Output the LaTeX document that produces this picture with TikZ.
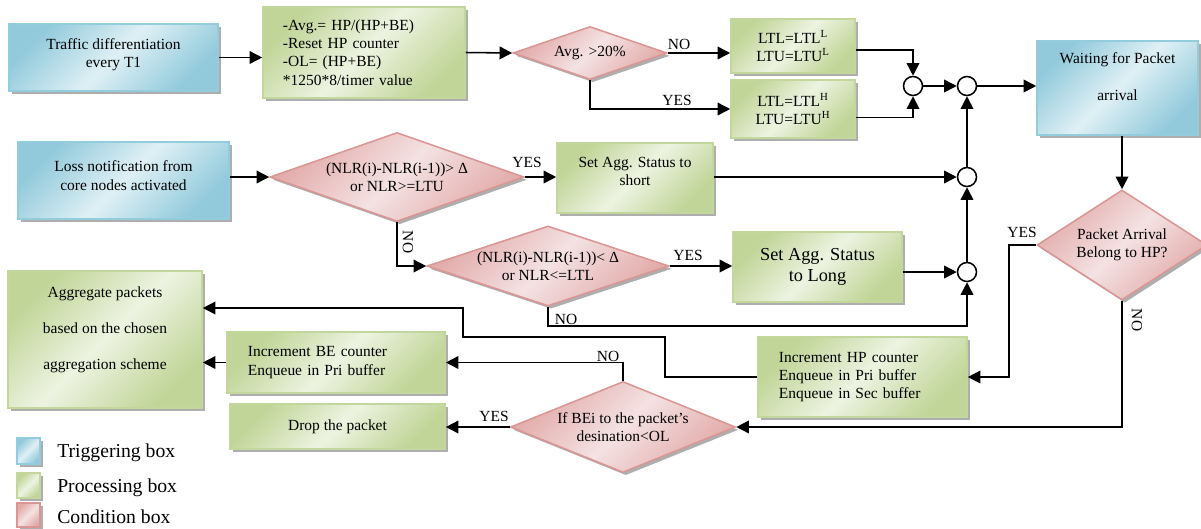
\documentclass[tikz,border=0pt]{standalone}
\usepackage{fontspec}
\setmainfont{Liberation Serif}
\usetikzlibrary{shapes.geometric,arrows.meta,shadows}
\definecolor{trig-edge}{HTML}{93CDDD}
\definecolor{trig-dark}{HTML}{92CADB}
\definecolor{trig-light}{HTML}{DFF0F5}
\definecolor{proc-edge}{HTML}{C3D69B}
\definecolor{proc-dark}{HTML}{C0D597}
\definecolor{proc-light}{HTML}{EDF3E1}
\definecolor{cond-edge}{HTML}{D99694}
\definecolor{cond-dark}{HTML}{E2ABAA}
\definecolor{cond-light}{HTML}{F4E2E2}
\tikzset{
    base-box/.style = {rectangle, line width=1.1pt, inner sep=3pt, align=center, font=\fontsize{11}{13}\selectfont, drop shadow={shadow xshift=2pt, shadow yshift=-2pt, fill=black!45, opacity=.7}},
    trigger-box/.style = {base-box, draw=trig-edge, shading=axis, left color=trig-dark, right color=trig-dark, middle color=trig-light, shading angle=45},
    process-box/.style = {base-box, draw=proc-edge, shading=axis, left color=proc-dark, right color=proc-dark, middle color=proc-light, shading angle=45},
    cond-box/.style = {base-box, diamond, inner sep=0pt, draw=cond-edge, shading=axis, left color=cond-dark, right color=cond-dark, middle color=cond-light, shading angle=45},
    join-circle/.style = {circle, draw, line width=1.1pt, fill=white, minimum size=0.475cm, inner sep=0pt},
    flow-arrow/.style = {line width=1.1pt, -{Triangle[length=9pt,width=9pt]}},
    flow-label/.style = {inner sep=1pt, font=\fontsize{11}{13}\selectfont},
    legend-text/.style = {anchor=west, inner sep=0pt, font=\fontsize{14}{16}\selectfont},
}
\begin{document}
\begin{tikzpicture}[x=0.025cm, y=-0.025cm]
\useasboundingbox (0,0) rectangle (1201,528);

\node[trigger-box, minimum width=5.225cm, minimum height=1.675cm, text depth=6pt] (traffic) at (113.5,57.5) {Traffic differentiation\\every T1};
\node[process-box, minimum width=5.05cm, minimum height=2.275cm, text width=4.05cm, inner xsep=0.5cm, align=left] (average) at (364,52.5) {-Avg.= HP/(HP+BE)\\-Reset HP counter\\-OL= (HP+BE)\\{}*1250*8/timer value};
\node[cond-box, shape aspect=2.9, minimum width=3.85cm, minimum height=1.325cm] (avg-check) at (590,53) {Avg. >20\%};
\node[process-box, minimum width=3.1cm, minimum height=1.35cm] (low-thr) at (793,46) {LTL=LTL\textsuperscript{L}\\LTU=LTU\textsuperscript{L}};
\node[process-box, minimum width=3.1cm, minimum height=1.45cm] (high-thr) at (793,109) {LTL=LTL\textsuperscript{H}\\LTU=LTU\textsuperscript{H}};
\node[join-circle] (join-a) at (913,86) {};
\node[join-circle] (join-b) at (967,86) {};
\node[join-circle] (join-c) at (967,177) {};
\node[join-circle] (join-d) at (967,272) {};
\node[trigger-box, minimum width=4.025cm, minimum height=2.35cm, text depth=16pt] (waiting) at (1117.5,88) {Waiting for Packet\\[13pt]arrival};

\node[trigger-box, minimum width=5.275cm, minimum height=1.925cm, text depth=7pt] (loss) at (123.5,180.5) {Loss notification from\\core nodes activated};
\node[cond-box, shape aspect=2.85, minimum width=6.35cm, minimum height=2.225cm] (short-check) at (397,177) {(NLR(i)-NLR(i-1))> Δ\\or NLR>=LTU};
\node[process-box, minimum width=3.9cm, minimum height=1.75cm, text depth=9pt] (set-short) at (635,178) {Set Agg. Status to\\short};
\node[cond-box, shape aspect=3, minimum width=6.05cm, minimum height=2cm] (long-check) at (548,266) {(NLR(i)-NLR(i-1))< Δ\\or NLR<=LTL};
\node[process-box, minimum width=4.225cm, minimum height=1.75cm, font=\fontsize{13}{15}\selectfont] (set-long) at (817.5,267) {Set Agg. Status\\to Long};
\node[cond-box, shape aspect=1.55, minimum width=4.25cm, minimum height=2.75cm] (hp-check) at (1122,245) {Packet Arrival\\Belong to HP?};

\node[process-box, minimum width=4.85cm, minimum height=3.425cm, text depth=16pt] (aggregate) at (105,339.5) {Aggregate packets\\[12.5pt]based on the chosen\\[12.5pt]aggregation scheme};
\node[process-box, minimum width=5.45cm, minimum height=1.525cm, text width=4.4cm, inner xsep=0.525cm, align=left] (be-count) at (336,362.5) {Increment BE counter\\Enqueue in Pri buffer};
\node[process-box, minimum width=5.375cm, minimum height=1.125cm] (drop) at (337.5,426.5) {Drop the packet};
\node[cond-box, shape aspect=2.47, minimum width=5.625cm, minimum height=2.275cm] (be-check) at (623,427) {If BEi to the packet’s\\desination<OL};
\node[process-box, minimum width=5.225cm, minimum height=2cm, text width=4.175cm, inner xsep=0.525cm, align=left] (hp-count) at (862.5,377) {Increment HP counter\\Enqueue in Pri buffer\\Enqueue in Sec buffer};

\draw[flow-arrow] (traffic.east) -- (traffic.east -| average.west);
\draw[flow-arrow] (average.east) -- (avg-check.west);
\draw[flow-arrow] (avg-check.east) -- (avg-check.east -| low-thr.west);
\draw[flow-arrow] (avg-check.south) |- (high-thr.west);
\draw[flow-arrow] ([yshift=-3pt]low-thr.east) -| (join-a.north);
\draw[flow-arrow] ([yshift=-6pt]high-thr.east) -| (join-a.south);
\draw[flow-arrow] (join-a) -- (join-b);
\draw[flow-arrow] (join-b.east) -- (join-b.east -| waiting.west);
\draw[flow-arrow] (hp-check.north |- waiting.south) -- (hp-check.north);
\draw[flow-arrow] (hp-check.west) -- ++(-27,0) |- (hp-count.east);
\draw[flow-arrow] (hp-check.south) |- (be-check.east);
\draw[flow-arrow] (short-check.west -| loss.east) -- (short-check.west);
\draw[flow-arrow] (short-check.east) -- (short-check.east -| set-short.west);
\draw[flow-arrow] (set-short.east |- join-c) -- (join-c.west);
\draw[flow-arrow] (short-check.south) |- (long-check.west);
\draw[flow-arrow] (long-check.east) -- (long-check.east -| set-long.west);
\draw[flow-arrow] (set-long.east |- join-d) -- (join-d.west);
\draw[flow-arrow] (long-check.south) -- ++(0,19) -| (join-d.south);
\draw[flow-arrow] (join-d.north) -- (join-c.south);
\draw[flow-arrow] (join-c.north) -- (join-b.south);
\draw[flow-arrow] (hp-count.west) -- ++(-92,0) |- (463,337) |- (aggregate.east |- 0,308);
\draw[flow-arrow] (be-count.west) -- (be-count.west -| aggregate.east);
\draw[flow-arrow] (be-check.north) |- (be-count.east);
\draw[flow-arrow] (be-check.west) -- (be-check.west -| drop.east);

\node[flow-label] (avg-no) at (679,44) {NO};
\node[flow-label] (avg-yes) at (677,100) {YES};
\node[flow-label] (short-yes) at (527,162) {YES};
\node[flow-label, rotate=-90] (short-no) at (408,242) {NO};
\node[flow-label] (long-yes) at (688,255) {YES};
\node[flow-label] (long-no) at (566,319) {NO};
\node[flow-label] (hp-yes) at (1022,232) {YES};
\node[flow-label, rotate=-90] (hp-no) at (1137,320) {NO};
\node[flow-label] (be-no) at (608,356) {NO};
\node[flow-label] (be-yes) at (494,416) {YES};

\node[trigger-box, minimum width=0.575cm, minimum height=0.65cm, inner sep=0pt, line width=0.8pt] (key-trig) at (28.5,451) {};
\node[process-box, minimum width=0.575cm, minimum height=0.625cm, inner sep=0pt, line width=0.8pt] (key-proc) at (28.5,485.5) {};
\node[cond-box, rectangle, minimum width=0.575cm, minimum height=0.6cm, inner sep=0pt, line width=0.8pt] (key-cond) at (28.5,515) {};
\node[legend-text] (key-trig-text) at (57,453) {Triggering box};
\node[legend-text] (key-proc-text) at (57,488) {Processing box};
\node[legend-text] (key-cond-text) at (57,517) {Condition box};
\end{tikzpicture}
\end{document}
